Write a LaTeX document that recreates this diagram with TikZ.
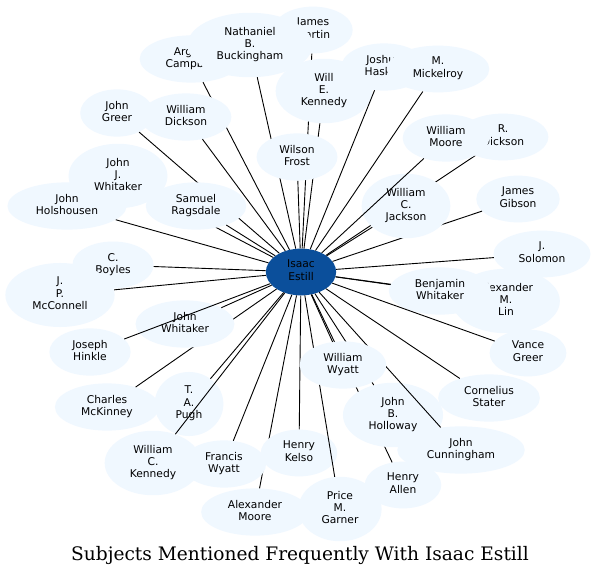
\documentclass[tikz,border=0pt]{standalone}
\usepackage{fontspec}
\setmainfont{DejaVu Sans}
\newfontfamily\titlefont{DejaVu Serif}
\usetikzlibrary{shapes.geometric}
\definecolor{nodefill}{HTML}{F0F8FF}
\definecolor{centerfill}{HTML}{0B4F9B}
\tikzset{
  person/.style={ellipse, fill=nodefill, draw=none, inner xsep=11pt, inner ysep=4.7pt,
    align=center, font={\fontsize{10.7}{12.2}\selectfont},
    execute at begin node=\strut, execute at end node=\strut},
  hub/.style={person, fill=centerfill, text=black},
  link/.style={draw=black, line width=0.9pt},
  titletext/.style={font={\titlefont\fontsize{18.6}{22}\selectfont}}
}
\begin{document}
\begin{tikzpicture}[x=1pt,y=-1pt]
\fill[white] (0,0) rectangle (598,578);
\useasboundingbox (0,0) rectangle (598,578);
\node[hub] (ie) at (301,272) {Isaac\\Estill};
\node[person] (jm) at (313,30) {James\\Martin}; \draw[link] (ie) -- (jm);
\node[person] (ac) at (191,59) {Argyle\\Campbell}; \draw[link] (ie) -- (ac);
\node[person] (nb) at (250,45) {Nathaniel\\B.\\Buckingham}; \draw[link] (ie) -- (nb);
\node[person] (wek) at (324,91) {Will\\E.\\Kennedy}; \draw[link] (ie) -- (wek);
\node[person] (wf) at (297,157) {Wilson\\Frost}; \draw[link] (ie) -- (wf);
\node[person] (jh) at (384,67) {Joshua\\Haskell}; \draw[link] (ie) -- (jh);
\node[person] (mm) at (438,69) {M.\\Mickelroy}; \draw[link] (ie) -- (mm);
\node[person] (jg) at (117,113) {John\\Greer}; \draw[link] (ie) -- (jg);
\node[person] (wd) at (186,117) {William\\Dickson}; \draw[link] (ie) -- (wd);
\node[person] (jho) at (67,206) {John\\Holshousen}; \draw[link] (ie) -- (jho);
\node[person] (jjw) at (118,176) {John\\J.\\Whitaker}; \draw[link] (ie) -- (jjw);
\node[person] (sr) at (196,206) {Samuel\\Ragsdale}; \draw[link] (ie) -- (sr);
\node[person] (rd) at (503,137) {R.\\Dickson}; \draw[link] (ie) -- (rd);
\node[person] (jgi) at (518,199) {James\\Gibson}; \draw[link] (ie) -- (jgi);
\node[person] (wcj) at (406,206) {William\\C.\\Jackson}; \draw[link] (ie) -- (wcj);
\node[person] (wm) at (446,138) {William\\Moore}; \draw[link] (ie) -- (wm);
\node[person] (js) at (542,254) {J.\\Solomon}; \draw[link] (ie) -- (js);
\node[person] (aml) at (506,301) {Alexander\\M.\\Lin}; \draw[link] (ie) -- (aml);
\node[person] (bw) at (440,291) {Benjamin\\Whitaker}; \draw[link] (ie) -- (bw);
\node[person] (vg) at (528,353) {Vance\\Greer}; \draw[link] (ie) -- (vg);
\node[person] (cs) at (489,398) {Cornelius\\Stater}; \draw[link] (ie) -- (cs);
\node[person] (ha) at (403,485) {Henry\\Allen}; \draw[link] (ie) -- (ha);
\node[person] (jbh) at (393,415) {John\\B.\\Holloway}; \draw[link] (ie) -- (jbh);
\node[person] (jc) at (461,450) {John\\Cunningham}; \draw[link] (ie) -- (jc);
\node[person] (am) at (255,512) {Alexander\\Moore}; \draw[link] (ie) -- (am);
\node[person] (hk) at (299,453) {Henry\\Kelso}; \draw[link] (ie) -- (hk);
\node[person] (pmg) at (340,509) {Price\\M.\\Garner}; \draw[link] (ie) -- (pmg);
\node[person] (ww) at (343,365) {William\\Wyatt}; \draw[link] (ie) -- (ww);
\node[person] (fw) at (224,464) {Francis\\Wyatt}; \draw[link] (ie) -- (fw);
\node[person] (tap) at (189,404) {T.\\A.\\Pugh}; \draw[link] (ie) -- (tap);
\node[person] (wck) at (153,463) {William\\C.\\Kennedy}; \draw[link] (ie) -- (wck);
\node[person] (cm) at (107,407) {Charles\\McKinney}; \draw[link] (ie) -- (cm);
\node[person] (jw) at (185,324) {John\\Whitaker}; \draw[link] (ie) -- (jw);
\node[person] (jhi) at (90,352) {Joseph\\Hinkle}; \draw[link] (ie) -- (jhi);
\node[person] (cb) at (113,265) {C.\\Boyles}; \draw[link] (ie) -- (cb);
\node[person] (jpm) at (60,295) {J.\\P.\\McConnell}; \draw[link] (ie) -- (jpm);
\node[titletext] (title) at (300,555) {Subjects Mentioned Frequently With Isaac Estill};
\end{tikzpicture}
\end{document}
